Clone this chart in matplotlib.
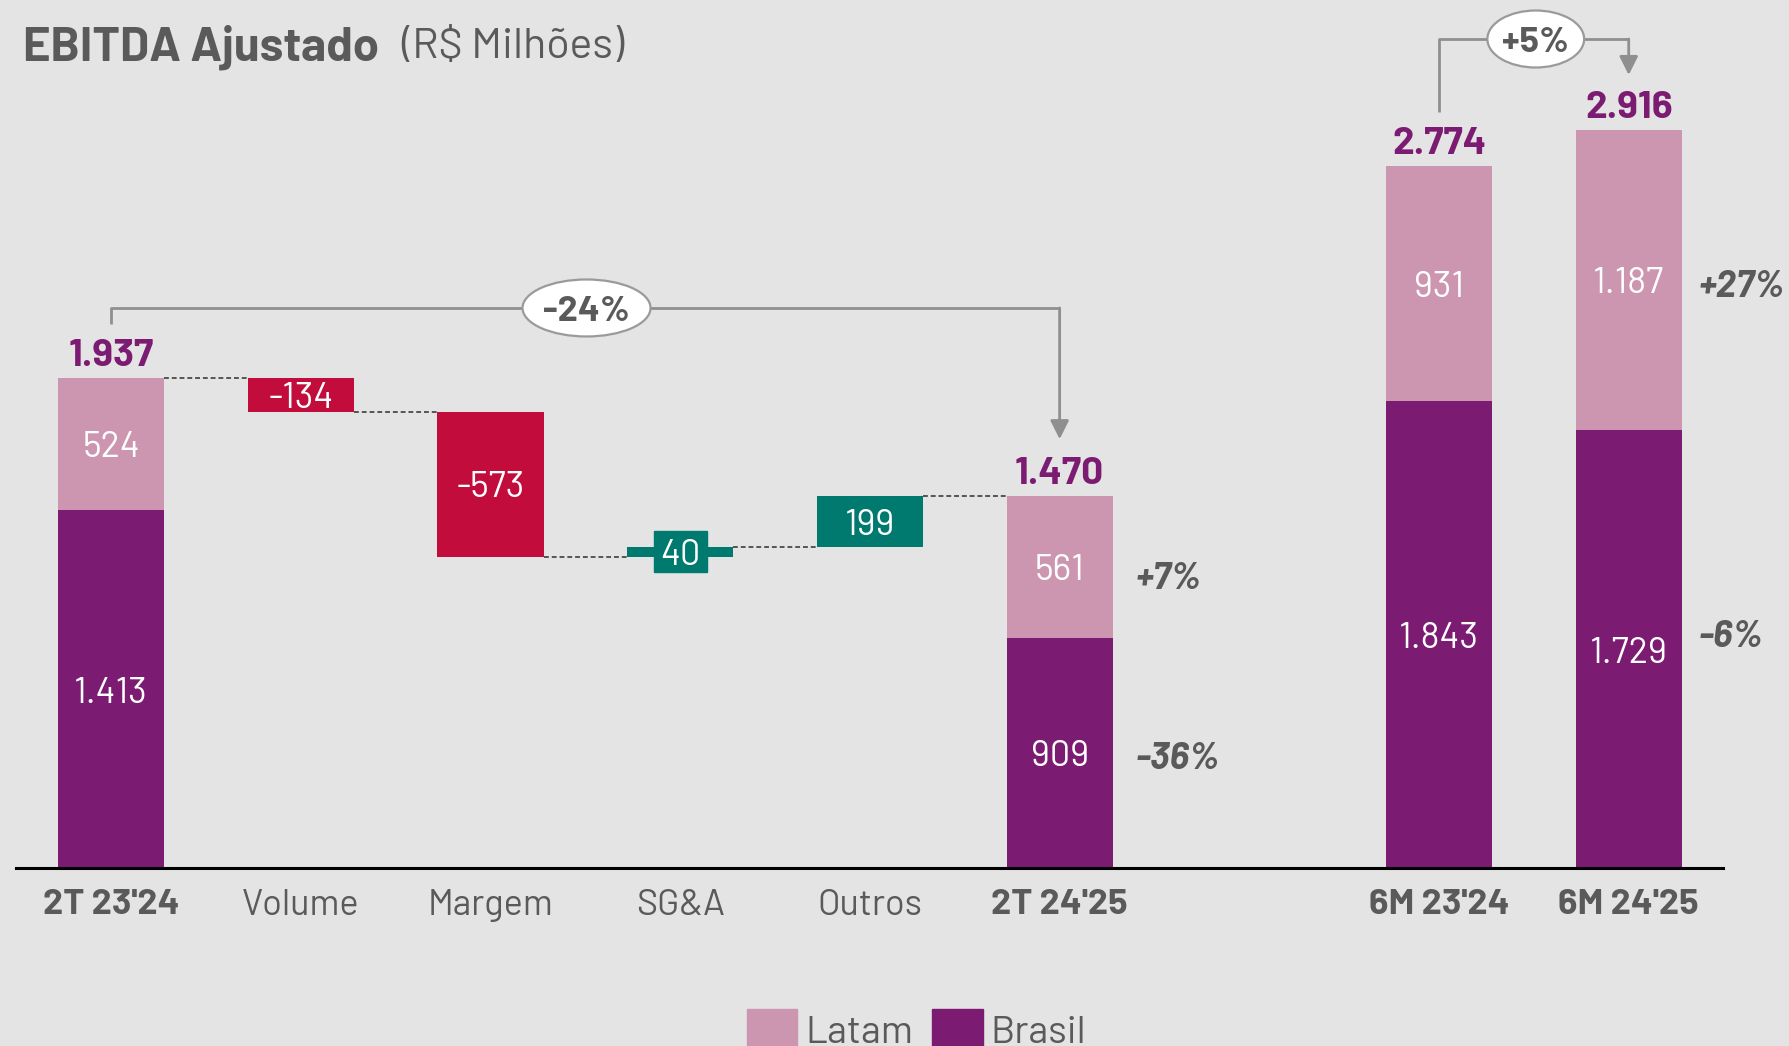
import matplotlib
matplotlib.use("Agg")
import matplotlib.pyplot as plt
from matplotlib.patches import Ellipse, Patch, Rectangle

# data (R$ milhões)
cats = ["2T 23'24", "Volume", "Margem", "SG&A", "Outros", "2T 24'25", "6M 23'24", "6M 24'25"]
xpos = [0, 1, 2, 3, 4, 5, 7, 8]
bold_cats = [True, False, False, False, False, True, True, True]

totals_x = [0, 5, 7, 8]
brasil = [1413, 909, 1843, 1729]
latam = [524, 561, 931, 1187]
totals = [1937, 1470, 2774, 2916]
total_lbl = ["1.937", "1.470", "2.774", "2.916"]
brasil_lbl = ["1.413", "909", "1.843", "1.729"]
latam_lbl = ["524", "561", "931", "1.187"]

steps_x = [1, 2, 3, 4]
steps = [-134, -573, 40, 199]
steps_lbl = ["-134", "-573", "40", "199"]

var_x = [5, 8]
var_latam = ["+7%", "+27%"]
var_brasil = ["-36%", "-6%"]
var_latam_y = [1158, 2311]
var_brasil_y = [446, 928]
var_dx = [0.40, 0.37]

BG = "#E4E4E4"
PINK = "#CC96B0"
PURPLE = "#7B1C72"
RED = "#C20D3C"
TEAL = "#007A6E"
GRAY = "#5A5A5A"
LINE = "#8F8F8F"
FONT = "Barlow"
DY = -15  # small shift so text centres sit like in the original

plt.rcParams["font.family"] = [FONT, "DejaVu Sans"]

fig = plt.figure(figsize=(17.89, 10.46), dpi=100, facecolor=BG)
ax = fig.add_axes([0, 0, 1, 1])
ax.set_facecolor(BG)
ax.set_xlim(-0.586, 8.845)
ax.set_ylim(-702, 3428)
ax.axis("off")

w = 0.56

# stacked total bars
ax.bar(totals_x, brasil, width=w, color=PURPLE, zorder=2)
ax.bar(totals_x, latam, width=w, bottom=brasil, color=PINK, zorder=2)
for x, b, l, t, bl, ll, tl in zip(totals_x, brasil, latam, totals, brasil_lbl, latam_lbl, total_lbl):
    ax.text(x, b / 2 + DY, bl, ha="center", va="center", color="white", fontsize=26)
    ax.text(x, b + l / 2 + DY, ll, ha="center", va="center", color="white", fontsize=26)
    ax.text(x, t + 102 + DY, tl, ha="center", va="center", color=PURPLE, fontsize=28,
            fontweight="bold")

# waterfall steps
level = totals[0]
prev_right = totals_x[0] + w / 2
for x, s, lbl in zip(steps_x, steps, steps_lbl):
    ax.plot([prev_right, x - w / 2], [level, level], color="#555555", lw=1.4,
            ls=(0, (2.5, 1.5)), zorder=1)
    new = level + s
    ax.bar(x, s, width=w, bottom=level, color=RED if s < 0 else TEAL, zorder=2)
    mid = level + s / 2
    if abs(s) < 100:
        ax.add_patch(Rectangle((x - 0.14, mid - 81), 0.28, 162, color=TEAL, zorder=3))
    ax.text(x, mid + DY, lbl, ha="center", va="center", color="white", fontsize=26, zorder=4)
    level = new
    prev_right = x + w / 2
ax.plot([prev_right, totals_x[1] - w / 2], [level, level], color="#555555", lw=1.4,
        ls=(0, (2.5, 1.5)), zorder=1)

# variation labels
for x, dx, vl, vb, yl, yb in zip(var_x, var_dx, var_latam, var_brasil, var_latam_y, var_brasil_y):
    ax.text(x + dx, yl + DY, vl, ha="left", va="center", color=GRAY,
            fontsize=27, fontweight="bold", style="italic")
    ax.text(x + dx, yb + DY, vb, ha="left", va="center", color=GRAY,
            fontsize=27, fontweight="bold", style="italic")

# baseline
ax.plot([-0.502, 8.496], [0, 0], color="black", lw=2.2, zorder=3)

# category labels
for x, c, b in zip(xpos, cats, bold_cats):
    ax.text(x, -131 + DY, c, ha="center", va="center", color=GRAY, fontsize=26,
            fontweight="bold" if b else "normal")


def bracket(x0, x1, y0, ytop, ytip, xe, we, he, txt):
    ax.plot([x0, x0, x1], [y0, ytop, ytop], color=LINE, lw=2, zorder=1,
            solid_capstyle="butt")
    ax.annotate("", xy=(x1, ytip), xytext=(x1, ytop),
                arrowprops=dict(arrowstyle="-|>", color=LINE, lw=2, mutation_scale=28,
                                shrinkA=0, shrinkB=0), zorder=1)
    ax.add_patch(Ellipse((xe, ytop), we, he, facecolor="white", edgecolor="#9A9A9A",
                         lw=1.6, zorder=3))
    ax.text(xe, ytop + DY, txt, ha="center", va="center", color=GRAY, fontsize=26,
            fontweight="bold", zorder=4)


bracket(0, 5, 2150, 2212, 1694, 2.506, 0.675, 225, "-24%")
bracket(7, 8, 2986, 3274, 3132, 7.51, 0.51, 225, "+5%")

# title
fig.text(0.013, 0.955, "EBITDA Ajustado", ha="left", va="center", color=GRAY,
         fontsize=34, fontweight="bold")
fig.text(0.2245, 0.955, "(R$ Milhões)", ha="left", va="center", color=GRAY,
         fontsize=31, fontweight="normal")

# legend (partly below the picture edge, as in the reference)
handles = [Patch(color=PINK, label="Latam"), Patch(color=PURPLE, label="Brasil")]
fig.legend(handles=handles, loc="upper left", bbox_to_anchor=(0.4065, 0.054), ncol=2,
           frameon=False, fontsize=28, handlelength=1.3, handleheight=1.3,
           handletextpad=0.2, columnspacing=0.5, borderpad=0, labelcolor=GRAY)

plt.savefig("out.png", dpi=100, facecolor=BG)
